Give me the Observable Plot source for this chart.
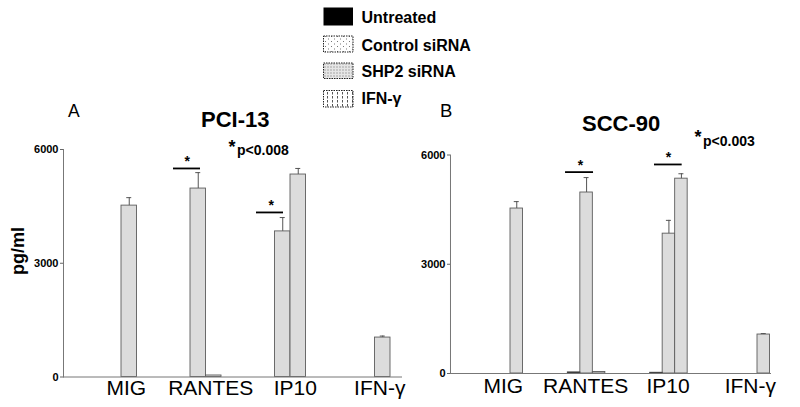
<!DOCTYPE html>
<html><head><meta charset="utf-8">
<script src="https://cdn.jsdelivr.net/npm/d3@7"></script>
<script src="https://cdn.jsdelivr.net/npm/@observablehq/plot@0.6"></script>
<style>
html,body{margin:0;padding:0;background:#fff;}
#root{position:relative;width:800px;height:407px;overflow:hidden;font-family:"Liberation Sans",Arial,sans-serif;}
.panel{position:absolute;top:0;}
.overlay{position:absolute;top:0;left:0;pointer-events:none;}
</style></head><body><div id="root"></div>
<script>
// ---------- data ----------
const series = ["Untreated", "Control siRNA", "SHP2 siRNA", "IFN-γ"];
const categories = ["MIG", "RANTES", "IP10", "IFN-γ"];
const yTicks = [0, 3000, 6000];

// Panel A: PCI-13 (pg/ml), values across categories
const pci13Untreated = [0, 0, 0, 0];
const pci13Control   = [0, 4970, 3840, 0];
const pci13Shp2      = [4520, 40, 5340, 1040];
const pci13Ifn       = [0, 0, 0, 0];
const pci13ControlErr = [0, 420, 365, 0];
const pci13Shp2Err    = [210, 0, 160, 40];

// Panel B: SCC-90 (pg/ml)
const scc90Untreated = [0, 30, 20, 0];
const scc90Control   = [0, 4970, 3840, 0];
const scc90Shp2      = [4530, 40, 5350, 1070];
const scc90Ifn       = [0, 0, 0, 0];
const scc90ControlErr = [0, 410, 365, 0];
const scc90Shp2Err    = [190, 0, 135, 27];

// significance brackets
const pci13Sig = [
  {category: "RANTES", from: "Untreated", to: "Control siRNA", level: 5500},
  {category: "IP10", from: "Untreated", to: "Control siRNA", level: 4340}
];
const scc90Sig = [
  {category: "RANTES", from: "Untreated", to: "Control siRNA", level: 5530},
  {category: "IP10", from: "Untreated", to: "SHP2 siRNA", level: 5740}
];

function buildRows(vals, errs) {
  const rows = [];
  categories.forEach((c, i) => {
    series.forEach((s, j) => {
      rows.push({category: c, series: s, value: vals[j][i], err: errs[j] ? errs[j][i] : 0});
    });
  });
  return rows;
}
const pciRows = buildRows([pci13Untreated, pci13Control, pci13Shp2, pci13Ifn], [null, pci13ControlErr, pci13Shp2Err, null]);
const sccRows = buildRows([scc90Untreated, scc90Control, scc90Shp2, scc90Ifn], [null, scc90ControlErr, scc90Shp2Err, null]);

const FONT = "Liberation Sans, Arial, sans-serif";

function panel(rows, sig, cfg) {
  const bars = rows.filter(d => d.value > 0);
  const errs = rows.filter(d => d.err > 0);
  const marks = [
    Plot.barY(bars.filter(d => d.series !== "Untreated"), {fx: "category", x: "series", y: "value", fill: "#dcdcdc", stroke: "#5c5c5c", strokeWidth: 0.9}),
    Plot.barY(bars.filter(d => d.series === "Untreated"), {fx: "category", x: "series", y: "value", fill: "#222", stroke: "#444", strokeWidth: 0.9}),
    Plot.ruleX(errs, {fx: "category", x: "series", y1: "value", y2: d => d.value + d.err, stroke: "#555", strokeWidth: 1}),
    Plot.tickY(errs, {fx: "category", x: "series", y: d => d.value + d.err, stroke: "#555", strokeWidth: 1, insetLeft: cfg.cap, insetRight: cfg.cap}),
    Plot.frame({anchor: "bottom", facet: "super", stroke: "#777", strokeWidth: 1, insetLeft: -cfg.axisShift, insetRight: cfg.baseRight}),
    Plot.frame({anchor: "left", facet: "super", stroke: "#777", dx: -cfg.axisShift}),
    Plot.axisY({ticks: yTicks, tickFormat: () => "", tickSize: 3, label: null, dx: -cfg.axisShift, stroke: "#666"}),
    Plot.text(yTicks, {y: d => d, text: d => String(d), frameAnchor: "left", textAnchor: "end", lineAnchor: "middle",
      dx: -cfg.axisShift - 5, fontSize: 11, fontWeight: "bold", fill: "#000", facetAnchor: "left"}),
    Plot.axisFx({anchor: "bottom", tickSize: 0, tickPadding: cfg.labelPad, fontSize: 21, label: null, dx: cfg.labelDx, color: "#000"})
  ];
  sig.forEach((s, k) => {
    marks.push(Plot.ruleY([s], {fx: "category", x1: "from", x2: "to", y: "level", stroke: "#000", strokeWidth: 1.8,
      insetLeft: cfg.sigInset[k][0], insetRight: cfg.sigInset[k][1]}));
    marks.push(Plot.text([s], {fx: "category", x: "from", y: "level", text: () => "*", fontSize: 14, fontWeight: "bold",
      lineAnchor: "bottom", dy: -2.5, dx: cfg.starDx[k], fill: "#000"}));
  });
  return Plot.plot({
    width: cfg.width, height: 407,
    marginLeft: cfg.marginLeft, marginRight: cfg.marginRight, marginTop: cfg.marginTop, marginBottom: cfg.marginBottom,
    style: {background: "transparent", overflow: "visible", fontFamily: FONT, maxWidth: "none"},
    fx: {domain: categories, padding: 0, round: false, axis: null},
    x: {domain: series, paddingInner: 0, paddingOuter: cfg.xOuter, align: 1, round: false, axis: null},
    y: {domain: [0, 6000], axis: null},
    marks
  });
}

const root = document.getElementById("root");

const A = panel(pciRows, pci13Sig, {
  width: 420, marginLeft: 67.5, marginRight: 14.5, marginTop: 149, marginBottom: 30.5,
  xOuter: 0.7258, cap: 5.25, axisShift: 4.5, baseRight: 4.5, labelPad: 3.5, labelDx: 16,
  sigInset: [[-1.5, 5.5], [-3, 7]], starDx: [4.5, 4]
});
A.classList.add("panel"); A.style.left = "0px";
root.appendChild(A);

const B = panel(sccRows, scc90Sig, {
  width: 400, marginLeft: 52.67, marginRight: 18, marginTop: 154.5, marginBottom: 34,
  xOuter: 1.2935, cap: 3.75, axisShift: 2.67, baseRight: 12, labelPad: 5, labelDx: 9,
  sigInset: [[-2.3, -0.7], [4.3, 5.5]], starDx: [6.5, 12]
});
B.classList.add("panel"); B.style.left = "400px";
root.appendChild(B);

// ---------- overlay: titles, legend, axis label ----------
const svg = d3.create("svg").attr("class", "overlay").attr("width", 800).attr("height", 407)
  .style("font-family", FONT);
const defs = svg.append("defs");
const p1 = defs.append("pattern").attr("id", "pCtrl").attr("patternUnits", "userSpaceOnUse").attr("width", 6).attr("height", 5);
p1.append("rect").attr("width", 6).attr("height", 5).attr("fill", "#fff");
p1.append("rect").attr("x", 1).attr("y", 1).attr("width", 1).attr("height", 1).attr("fill", "#777");
p1.append("rect").attr("x", 4).attr("y", 3.5).attr("width", 1).attr("height", 1).attr("fill", "#777");
const p2 = defs.append("pattern").attr("id", "pShp2").attr("patternUnits", "userSpaceOnUse").attr("width", 3).attr("height", 3);
p2.append("rect").attr("width", 3).attr("height", 3).attr("fill", "#e6e6e6");
p2.append("rect").attr("x", 0.5).attr("y", 0.5).attr("width", 1).attr("height", 1).attr("fill", "#666");
const p3 = defs.append("pattern").attr("id", "pIfn").attr("patternUnits", "userSpaceOnUse").attr("width", 5).attr("height", 4);
p3.append("rect").attr("width", 5).attr("height", 4).attr("fill", "#fff");
p3.append("rect").attr("x", 2).attr("y", 0).attr("width", 1).attr("height", 2.5).attr("fill", "#555");

const legendFills = ["#000", "url(#pCtrl)", "url(#pShp2)", "url(#pIfn)"];
const swatchY = [7.5, 36, 63, 90.5];
const swatchH = [18, 16, 15.5, 16.5];
const textBase = [22.7, 50.7, 77.2, 104.3];
series.forEach((s, i) => {
  svg.append("rect").attr("x", 323.5).attr("y", swatchY[i]).attr("width", 29.5).attr("height", swatchH[i])
    .attr("fill", legendFills[i]).attr("stroke", "#222").attr("stroke-width", i === 0 ? 0 : 1)
    .attr("stroke-dasharray", i === 0 ? null : "1.5,1");
  svg.append("text").attr("x", 361.5).attr("y", textBase[i]).attr("font-size", 16).attr("font-weight", "bold")
    .attr("fill", "#000").text(s);
});

const txt = (x, y, t, size, weight) => svg.append("text").attr("x", x).attr("y", y).attr("font-size", size)
    .attr("font-weight", weight || "normal").attr("fill", "#000").text(t);
txt(68, 117, "A", 17.5);
txt(440, 117, "B", 18.5);
txt(201, 127, "PCI-13", 22, "bold");
txt(582, 131, "SCC-90", 22, "bold");
txt(228.5, 153, "*", 18, "bold");
txt(237, 155, "p<0.008", 14, "bold");
txt(694.5, 143, "*", 18, "bold");
txt(703, 146, "p<0.003", 14, "bold");
svg.append("text").attr("transform", "translate(23.5,251) rotate(-90)").attr("text-anchor", "middle")
  .attr("font-size", 18).attr("font-weight", "bold").attr("fill", "#000").text("pg/ml");

root.appendChild(svg.node());
</script></body></html>
